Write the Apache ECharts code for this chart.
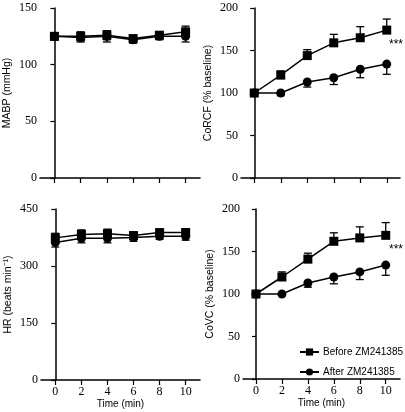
<!DOCTYPE html>
<html><head><meta charset="utf-8">
<script src="https://cdn.jsdelivr.net/npm/echarts@6/dist/echarts.min.js"></script>
<style>html,body{margin:0;padding:0;background:#fff}#c{width:405px;height:412px}</style>
</head><body><div id="c"></div>
<script>
const times = [0, 2, 4, 6, 8, 10];
const mabpBefore = [125, 125, 126, 123, 126, 129];
const mabpBeforeErr = [3, 4, 4, 3, 3, 5];
const mabpAfter = [125, 124, 125, 122, 125, 125];
const mabpAfterErr = [3, 4, 5, 3, 3, 5];
const corcfBefore = [100, 121, 144, 159, 165, 174];
const corcfBeforeErr = [0, 5, 7, 10, 13, 13];
const corcfAfter = [100, 100, 113, 118, 128, 134];
const corcfAfterErr = [0, 3, 6, 8, 10, 12];
const hrBefore = [374, 383, 385, 380, 388, 388];
const hrBeforeErr = [12, 12, 12, 10, 8, 10];
const hrAfter = [362, 373, 373, 375, 378, 378];
const hrAfterErr = [12, 12, 12, 10, 8, 10];
const covcBefore = [100, 120, 141, 162, 166, 169];
const covcBeforeErr = [0, 6, 7, 10, 13, 15];
const covcAfter = [100, 100, 113, 120, 126, 134];
const covcAfterErr = [0, 2, 5, 8, 9, 12];
const seriesNames = ['Before ZM241385', 'After ZM241385'];
const yTitles = ['MABP (mmHg)', 'CoRCF (% baseline)', 'HR (beats min\u207B\u00B9)', 'CoVC (% baseline)'];
const yRanges = [[0, 150, 50], [0, 200, 50], [0, 450, 150], [0, 200, 50]];
const xTitle = 'Time (min)';
const sigMark = '***';

const panels = [
  {b: mabpBefore, be: mabpBeforeErr, a: mabpAfter, ae: mabpAfterErr, bdir: 0, adir: 0},
  {b: corcfBefore, be: corcfBeforeErr, a: corcfAfter, ae: corcfAfterErr, bdir: 1, adir: -1},
  {b: hrBefore, be: hrBeforeErr, a: hrAfter, ae: hrAfterErr, bdir: 0, adir: 0},
  {b: covcBefore, be: covcBeforeErr, a: covcAfter, ae: covcAfterErr, bdir: 1, adir: -1}
];

const grids = [
  {left: 40, top: 8, width: 160, height: 170},
  {left: 241, top: 8, width: 159, height: 170},
  {left: 41, top: 209, width: 159, height: 171},
  {left: 243, top: 209, width: 157, height: 170}
];
const xRanges = [[-1.1, 11.1], [-1, 11], [-1.1, 11.1], [-1, 11.1]];

const serif = 'Liberation Serif';
const sans = 'Liberation Sans';

const xAxes = grids.map((g, i) => ({
  type: 'value', gridIndex: i, min: xRanges[i][0], max: xRanges[i][1],
  axisLine: {onZero: false, lineStyle: {color: '#000', width: 1.5}},
  axisTick: {show: true, length: 5, customValues: times, lineStyle: {color: '#000', width: 1.2}},
  axisLabel: {show: i >= 2, customValues: times, color: '#000', fontFamily: serif, fontSize: 12, margin: 6},
  splitLine: {show: false},
  name: i >= 2 ? xTitle : '', nameLocation: 'middle', nameGap: 18,
  nameTextStyle: {color: '#000', fontFamily: sans, fontSize: 10}
}));
const yAxes = grids.map((g, i) => ({
  type: 'value', gridIndex: i, min: yRanges[i][0], max: yRanges[i][1], interval: yRanges[i][2],
  axisLine: {show: true, lineStyle: {color: '#000', width: 1.5}},
  axisTick: {show: true, length: 4, lineStyle: {color: '#000', width: 1.2}},
  axisLabel: {color: '#000', fontFamily: serif, fontSize: 12, margin: 3},
  splitLine: {show: false},
  name: yTitles[i], nameLocation: 'middle', nameGap: 27, nameRotate: 90,
  nameTextStyle: {color: '#000', fontFamily: sans, fontSize: 10.5}
}));

function errSeries(i, vals, errs, dir) {
  return {
    type: 'custom', xAxisIndex: i, yAxisIndex: i, z: 1, silent: true,
    data: times.map((t, k) => [t, vals[k], errs[k]]),
    renderItem: function (params, api) {
      const x = api.value(0), y = api.value(1), e = api.value(2);
      const hi = dir >= 0 ? y + e : y;
      const lo = dir <= 0 ? y - e : y;
      const p1 = api.coord([x, hi]), p2 = api.coord([x, lo]);
      const w = 4;
      const ch = [{type: 'line', shape: {x1: p1[0], y1: p1[1], x2: p2[0], y2: p2[1]}, style: {stroke: '#000', lineWidth: 1.3}}];
      if (dir >= 0) ch.push({type: 'line', shape: {x1: p1[0] - w, y1: p1[1], x2: p1[0] + w, y2: p1[1]}, style: {stroke: '#000', lineWidth: 1.3}});
      if (dir <= 0) ch.push({type: 'line', shape: {x1: p2[0] - w, y1: p2[1], x2: p2[0] + w, y2: p2[1]}, style: {stroke: '#000', lineWidth: 1.3}});
      return {type: 'group', children: ch};
    }
  };
}

const series = [];
panels.forEach((p, i) => {
  series.push(errSeries(i, p.b, p.be, p.bdir));
  series.push(errSeries(i, p.a, p.ae, p.adir));
  series.push({name: seriesNames[0], type: 'line', xAxisIndex: i, yAxisIndex: i, z: 3,
    data: times.map((t, k) => [t, p.b[k]]), symbol: 'rect', symbolSize: 9,
    itemStyle: {color: '#000'}, lineStyle: {color: '#000', width: 1.5}, animation: false});
  series.push({name: seriesNames[1], type: 'line', xAxisIndex: i, yAxisIndex: i, z: 3,
    data: times.map((t, k) => [t, p.a[k]]), symbol: 'circle', symbolSize: 9,
    itemStyle: {color: '#000'}, lineStyle: {color: '#000', width: 1.5}, animation: false});
});

const chart = echarts.init(document.getElementById('c'), null, {renderer: 'canvas'});
chart.setOption({
  animation: false,
  backgroundColor: '#fff',
  grid: grids,
  xAxis: xAxes,
  yAxis: yAxes,
  series: series,
  legend: {
    data: seriesNames, orient: 'vertical', left: 299, top: 347, itemGap: 10,
    itemWidth: 19, itemHeight: 9, padding: 0,
    textStyle: {color: '#000', fontFamily: sans, fontSize: 10, padding: [0, 0, 0, -1]},
    inactiveColor: '#000'
  },
  graphic: [
    {type: 'text', left: 389, top: 39, style: {text: sigMark, font: '12px ' + sans, fill: '#000'}},
    {type: 'text', left: 389, top: 244, style: {text: sigMark, font: '12px ' + sans, fill: '#000'}}
  ]
});
</script></body></html>
